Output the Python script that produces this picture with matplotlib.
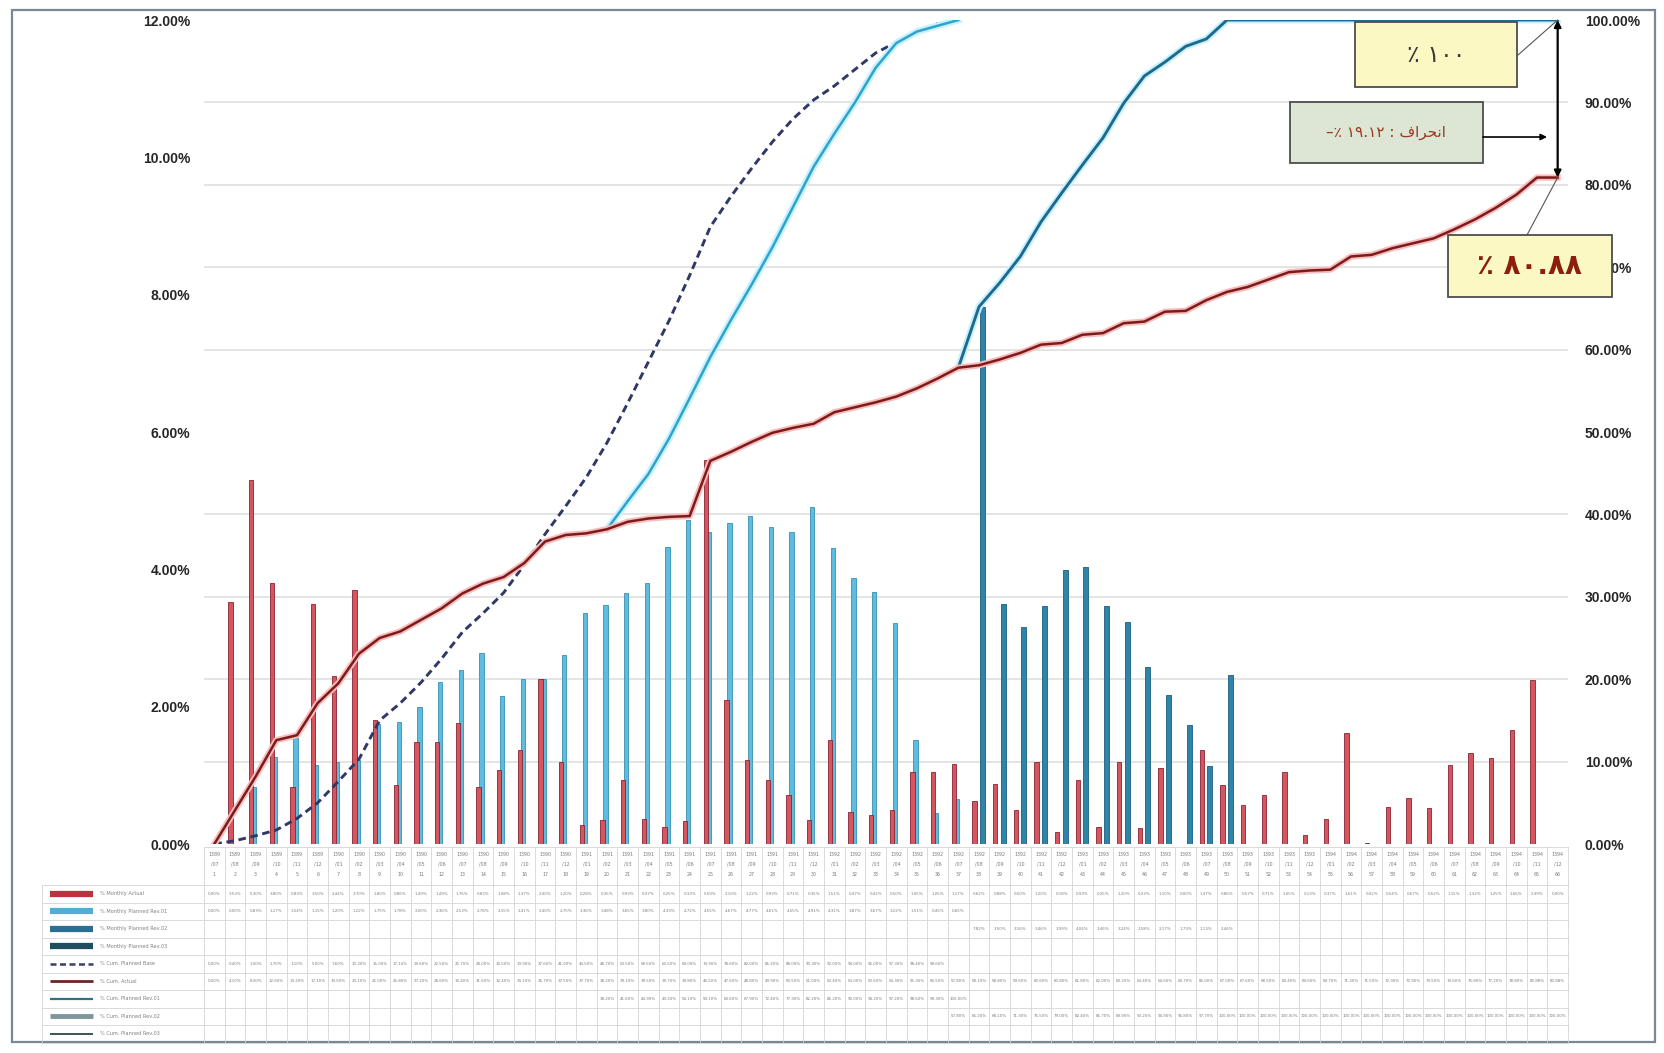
import numpy as np
import matplotlib
matplotlib.use("Agg")
import matplotlib.pyplot as plt
from matplotlib.patches import Rectangle
import matplotlib.patheffects as pe

# ---------------- data (percent units) ----------------
years = ["1389"] * 6 + ["1390"] * 12 + ["1391"] * 12 + ["1392"] * 12 + ["1393"] * 12 + ["1394"] * 12
months = ["07", "08", "09", "10", "11", "12"] + ["01", "02", "03", "04", "05", "06", "07", "08", "09", "10", "11", "12"] * 5
categories = [f"{y}/{m}" for y, m in zip(years, months)]

actual_monthly = [0, 3.53, 5.30, 3.80, 0.83, 3.50, 2.44, 3.70, 1.80, 0.86,
                  1.49, 1.49, 1.76, 0.83, 1.08, 1.37, 2.40, 1.20, 0.28, 0.35,
                  0.93, 0.37, 0.25, 0.33, 5.59, 2.10, 1.22, 0.93, 0.71, 0.35,
                  1.51, 0.47, 0.42, 0.50, 1.05, 1.05, 1.17, 0.62, 0.88, 0.50,
                  1.20, 0.18, 0.93, 0.25, 1.20, 0.23, 1.10, 0.00, 1.37, 0.86,
                  0.57, 0.71, 1.05, 0.13, 0.37, 1.61, 0.02, 0.54, 0.67, 0.52,
                  1.15, 1.32, 1.25, 1.66, 2.39, 0.00]
rev01_monthly = [0, 0, 0.83, 1.27, 1.54, 1.15, 1.20, 1.22, 1.75, 1.78,
                 2.00, 2.36, 2.53, 2.78, 2.15, 2.41, 2.40, 2.75, 3.36, 3.48,
                 3.65, 3.80, 4.33, 4.72, 4.55, 4.67, 4.77, 4.61, 4.55, 4.91,
                 4.31, 3.87, 3.67, 3.22, 1.51, 0.45, 0.65]
rev02_start = 37
rev02_monthly = [7.82, 3.50, 3.16, 3.46, 3.99, 4.04, 3.46, 3.24, 2.58, 2.17, 1.73, 1.13, 2.46]

cum_base = [0, 0.4, 1.0, 1.7, 3.1, 5.0, 7.6, 10.3, 15.0, 17.1,
            19.6, 22.5, 25.7, 28.0, 30.5, 33.9, 37.6, 41.0, 44.5, 48.7,
            53.5, 58.5, 63.5, 69.0, 74.9, 78.6, 82.0, 85.2, 88.0, 90.3,
            92.0, 94.0, 96.0, 97.3, 98.4, 99.6]
cum_actual = [0, 4.1, 8.2, 12.6, 13.2, 17.1, 19.5, 23.1, 25.0, 25.8,
              27.2, 28.6, 30.4, 31.6, 32.4, 34.1, 36.7, 37.5, 37.7, 38.2,
              39.1, 39.5, 39.7, 39.8, 46.5, 47.6, 48.8, 49.9, 50.5, 51.0,
              52.4, 53.0, 53.6, 54.3, 55.3, 56.5, 57.8, 58.1, 58.8, 59.6,
              60.6, 60.8, 61.8, 62.0, 63.2, 63.4, 64.6, 64.7, 66.0, 67.0,
              67.6, 68.5, 69.4, 69.6, 69.7, 71.3, 71.5, 72.3, 72.9, 73.5,
              74.6, 75.8, 77.2, 78.8, 80.88, 80.88]
rev01_cum_start = 19
cum_rev01 = [38.2, 41.6, 44.9, 49.2, 54.1, 59.1, 63.6, 67.9, 72.4, 77.3,
             82.2, 86.2, 90.0, 94.2, 97.2, 98.6, 99.3, 100.0]
rev02_cum_start = 36
cum_rev02 = [57.8, 65.2, 68.1, 71.3, 75.5, 79.0, 82.4, 85.7, 89.9, 93.2,
             94.9, 96.8, 97.7, 100.0] + [100.0] * 16

left_ticks = [0, 2, 4, 6, 8, 10, 12]
right_ticks = [0, 10, 20, 30, 40, 50, 60, 70, 80, 90, 100]

row_labels = ["% Monthly Actual", "% Monthly Planned Rev.01", "% Monthly Planned Rev.02",
              "% Monthly Planned Rev.03", "% Cum. Planned Base", "% Cum. Actual",
              "% Cum. Planned Rev.01", "% Cum. Planned Rev.02", "% Cum. Planned Rev.03"]

# ---------------- figure ----------------
W, H = 1665, 1053
fig = plt.figure(figsize=(W / 100, H / 100), dpi=100)
fig.patch.set_facecolor("white")

L, R, T, B = 204, 1568, 20, 844

bg = fig.add_axes([0, 0, 1, 1])
bg.set_xlim(0, W); bg.set_ylim(H, 0); bg.axis("off")

ax = fig.add_axes([L / W, 1 - B / H, (R - L) / W, (B - T) / H])
ax2 = ax.twinx()
ax.patch.set_visible(False)
n = len(actual_monthly)
x = np.arange(n)
ax.set_xlim(-0.5, n - 0.5)
ax.set_ylim(0, 12)
ax2.set_ylim(0, 100)

# gridlines (at right-axis ticks)
ax.set_yticks(np.array(right_ticks) * 0.12, minor=True)
ax.grid(which="minor", axis="y", color="#dcdcdc", lw=1.1)
ax.set_axisbelow(True)

red_c, red_e = "#d65660", "#8a2232"
b1_c, b1_e = "#5cbde0", "#3b8fb2"
b2_c, b2_e = "#2f84aa", "#1c5d7c"

ax.bar(x[:len(rev01_monthly)] - 0.07, rev01_monthly, width=0.21, color=b1_c, edgecolor=b1_e, lw=0.6, zorder=2)
ax.bar(x[rev02_start:rev02_start + len(rev02_monthly)] + 0.17, rev02_monthly, width=0.24,
       color=b2_c, edgecolor=b2_e, lw=0.6, zorder=2)
ax.bar(x - 0.22, actual_monthly, width=0.2, color=red_c, edgecolor=red_e, lw=0.6, zorder=3)

glow_b = [pe.Stroke(linewidth=5, foreground="#c8f1ff"), pe.Normal()]
glow_r = [pe.Stroke(linewidth=4.5, foreground="#f7bcbc"), pe.Normal()]
ax2.plot(x[:len(cum_base)], cum_base, color="#2f3866", lw=2.1, dashes=(2.6, 1.6))
ax2.plot(x[rev01_cum_start:rev01_cum_start + len(cum_rev01)], cum_rev01, color="#2ea3cc", lw=1.8, path_effects=glow_b)
ax2.plot(x[rev02_cum_start:rev02_cum_start + len(cum_rev02)], cum_rev02, color="#1f6a8c", lw=2.1, path_effects=glow_b)
ax2.plot(x, cum_actual, color="#7d1b1b", lw=1.8, path_effects=glow_r)

tick_font = dict(family="Liberation Sans", size=10, color="#262626", fontweight="bold")
ax.set_yticks(left_ticks)
ax.set_yticklabels([f"{v:.2f}%" for v in left_ticks], **tick_font)
ax2.set_yticks(right_ticks)
ax2.set_yticklabels([f"{v:.2f}%" for v in right_ticks], **tick_font)
ax.tick_params(axis="y", length=0, pad=10)
ax.tick_params(axis="y", which="minor", length=0)
ax2.tick_params(axis="y", length=0, pad=12)
ax.set_xticks([])
for a in (ax, ax2):
    for s in a.spines.values():
        s.set_visible(False)

# ---------------- data table ----------------
fig.canvas.draw()
def px(i):
    return ax.transData.transform((i, 0))[0]
edges = [px(i - 0.5) for i in range(n + 1)]
centers = [px(i) for i in range(n)]

grid_c = "#d4d4d4"
top_tab = 847
row_top = 885
row_h = 17.5
bottom_tab = 1042
for e in edges:
    bg.plot([e, e], [top_tab, bottom_tab], color=grid_c, lw=0.6)
bg.plot([42, 42], [row_top, bottom_tab], color=grid_c, lw=0.6)
bg.plot([L, R], [top_tab, top_tab], color=grid_c, lw=0.6)
for k in range(10):
    yy = row_top + k * row_h
    bg.plot([42, R], [yy, yy], color=grid_c, lw=0.6)

for i, c in enumerate(centers):
    y_, m_ = categories[i].split("/")
    bg.text(c, 854, y_, ha="center", va="center", fontsize=3.4, color="#7a7a7a")
    bg.text(c, 864, "/" + m_, ha="center", va="center", fontsize=3.4, color="#7a7a7a")
    bg.text(c, 875, str(i + 1), ha="center", va="center", fontsize=3.4, color="#7a7a7a")

row_data = [(actual_monthly, 0), (rev01_monthly, 0), (rev02_monthly, rev02_start), ([], 0),
            (cum_base, 0), (cum_actual, 0), (cum_rev01, rev01_cum_start), (cum_rev02, rev02_cum_start), ([], 0)]
key_styles = [dict(color="#c23040", lw=4.5), dict(color="#4fb0d4", lw=4.5), dict(color="#2b6f95", lw=4.5),
              dict(color="#1f4f5e", lw=4.5), dict(color="#3a3f66", lw=1.8, dashes=(2.4, 1.4)),
              dict(color="#6e2424", lw=2.0), dict(color="#2f7383", lw=1.6), dict(color="#7d979d", lw=3.5),
              dict(color="#3e5258", lw=1.4)]
for r, ((vals, start), lab, ks) in enumerate(zip(row_data, row_labels, key_styles)):
    yc = row_top + (r + 0.5) * row_h
    bg.plot([50, 93], [yc, yc], solid_capstyle="butt", **ks)
    bg.text(100, yc, lab, ha="left", va="center", fontsize=3.6, color="#808080")
    for j, v in enumerate(vals):
        bg.text(centers[start + j], yc, f"{v:.2f}%", ha="center", va="center", fontsize=2.9, color="#7d7d7d")

# outer frame
bg.add_patch(Rectangle((12, 10), 1643, 1032, fill=False, ec="#7b8894", lw=1.6))

# ---------------- annotations ----------------
fg = fig.add_axes([0, 0, 1, 1])
fg.set_xlim(0, W); fg.set_ylim(H, 0); fg.axis("off")
fg.patch.set_visible(False)

def data_px(i, v):
    dx, dy = ax2.transData.transform((i, v))
    return dx, H - dy

xe, y100 = data_px(n - 1, 100)
_, y_act = data_px(n - 1, cum_actual[-1])

arab = ["DejaVu Sans"]
fg.add_patch(Rectangle((1355, 22), 162, 65, fc="#fbf8c4", ec="#4d4d4d", lw=1.3, zorder=5))
fg.text(1436, 55, "٪ ١٠٠", ha="center", va="center", fontsize=17, color="#3a3a3a", family=arab, zorder=6)

fg.add_patch(Rectangle((1290, 102), 193, 61, fc="#dde6d5", ec="#4d4d4d", lw=1.3, zorder=5))
fg.text(1386, 133, "–٪ ١٩.١٢ : ﻑﺍﺮﺤﻧﺍ", ha="center", va="center", fontsize=11,
        color="#9a3a22", family=arab, zorder=6)

fg.add_patch(Rectangle((1448, 235), 164, 62, fc="#fbf8c4", ec="#4d4d4d", lw=1.3, zorder=5))
fg.text(1530, 266, "٪ ٨٠.٨٨", ha="center", va="center", fontsize=20, fontweight="bold",
        color="#8c1f0c", family=arab, zorder=6)

fg.plot([1518, xe], [55, y100], color="#555555", lw=0.8, zorder=4)
fg.plot([1527, xe], [235, y_act], color="#555555", lw=0.8, zorder=4)
fg.annotate("", xy=(xe, y100), xytext=(xe, y_act),
            arrowprops=dict(arrowstyle="<|-|>", color="black", lw=1.6, mutation_scale=10,
                            shrinkA=0, shrinkB=0), zorder=6)
fg.annotate("", xy=(1547, 137), xytext=(1483, 137),
            arrowprops=dict(arrowstyle="-|>", color="black", lw=1.2, mutation_scale=9,
                            shrinkA=0, shrinkB=0), zorder=6)

fig.savefig("out.png", dpi=100)
